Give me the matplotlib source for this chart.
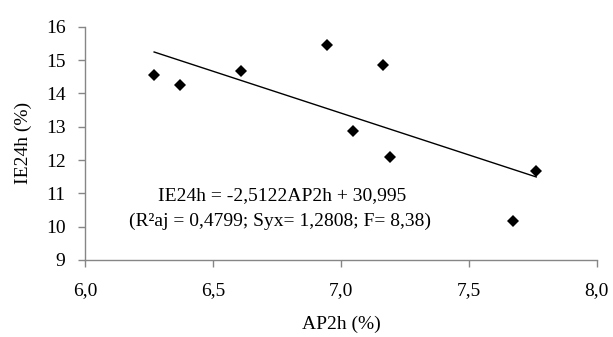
import numpy as np
import matplotlib.pyplot as plt

plt.rcParams['font.family'] = ['Liberation Serif', 'DejaVu Serif']

# AP2h (%) vs IE24h (%)
ap2h = [6.27, 6.37, 6.61, 6.945, 7.047, 7.163, 7.192, 7.673, 7.763]
ie24h = [14.54, 14.25, 14.66, 15.46, 12.88, 14.86, 12.08, 10.16, 11.68]

# fitted line from the equation on the chart
slope = -2.5122
intercept = 30.995
eq_line1 = "IE24h = -2,5122AP2h + 30,995"
eq_line2 = "(R²aj = 0,4799; Syx= 1,2808; F= 8,38)"

xticks = [6.0, 6.5, 7.0, 7.5, 8.0]
xticklabels = ["6,0", "6,5", "7,0", "7,5", "8,0"]
yticks = [9, 10, 11, 12, 13, 14, 15, 16]

fig = plt.figure(figsize=(6.13, 3.37), dpi=100)
ax = fig.add_axes([0.1387, 0.2285, 0.835, 0.692])

ax.plot(ap2h, ie24h, "D", color="black", markersize=6, markeredgewidth=0)

xl = np.array([min(ap2h), max(ap2h)])
ax.plot(xl, slope * xl + intercept, color="black", lw=1.0)

ax.text(6.770, 10.93, eq_line1, ha="center", va="center", fontsize=14)
ax.text(6.763, 10.15, eq_line2, ha="center", va="center", fontsize=14)

ax.set_xlim(6.0, 8.0)
ax.set_ylim(9, 16)
ax.set_xticks(xticks)
ax.set_xticklabels(xticklabels)
ax.set_yticks(yticks)

for s in ["top", "right"]:
    ax.spines[s].set_visible(False)
for s in ["left", "bottom"]:
    ax.spines[s].set_color("#868686")
    ax.spines[s].set_linewidth(1.0)
ax.tick_params(colors="#868686", length=5, width=1.0, labelcolor="black",
               labelsize=14)
ax.tick_params(axis="x", pad=11)
ax.tick_params(axis="y", pad=9)

ax.set_xlabel("AP2h (%)", fontsize=14, labelpad=12)
ax.set_ylabel("IE24h (%)", fontsize=14, labelpad=10)

fig.savefig("out.png", dpi=100)
